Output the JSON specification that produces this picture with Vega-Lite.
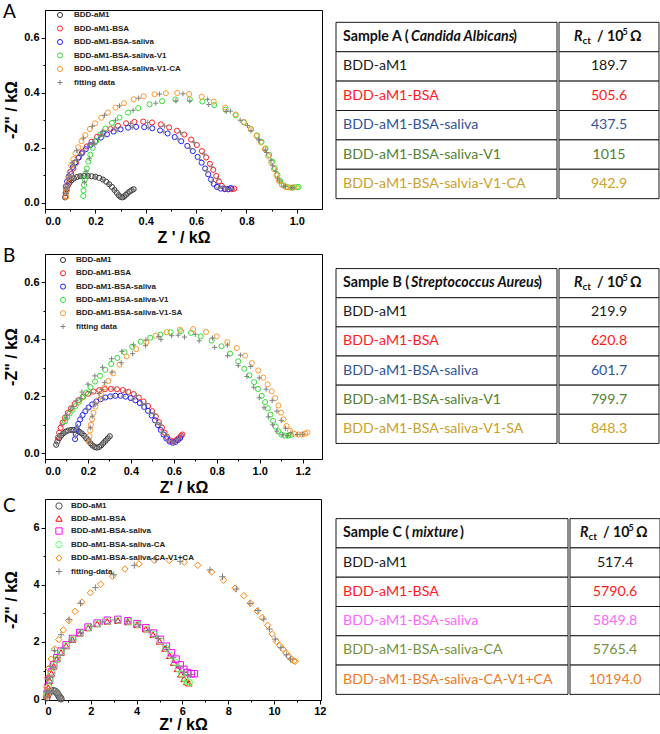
{
"$schema": "https://vega.github.io/schema/vega-lite/v6.json",
"background": "white",
"padding": {"left": 2, "top": 2, "right": 0, "bottom": 0},
"config": {
  "view": {"stroke": "black", "strokeWidth": 1},
  "axis": {"labelFont": "Liberation Sans", "labelFontWeight": "bold", "labelFontSize": 11, "labelColor": "black", "titleFont": "Liberation Sans", "titleFontWeight": "bold", "titleFontSize": 16, "titleColor": "black", "domainColor": "black", "tickColor": "black", "grid": false, "labelPadding": 2},
  "legend": {"labelFont": "Liberation Sans", "labelFontWeight": "bold", "labelFontSize": 8, "labelColor": "#222", "symbolStrokeWidth": 1, "padding": 0, "labelLimit": 400, "orient": "none"},
  "title": {"font": "Lato", "fontSize": 19, "fontWeight": "normal", "color": "black", "anchor": "start", "frame": "bounds", "offset": -12}
},
"resolve": {"scale": {"color": "independent", "shape": "independent", "x": "independent", "y": "independent"}},
"spacing": 0,
"vconcat": [
{
 "resolve": {"scale": {"color": "independent", "shape": "independent", "x": "independent", "y": "independent"}},
 "spacing": 12,
 "hconcat": [
 {
  "width": 277, "height": 199,
  "title": {"text": "A"},
  "data": {"values": [
{"s":"BDD-aM1","x":0.080,"y":0.020},{"s":"BDD-aM1","x":0.082,"y":0.035},{"s":"BDD-aM1","x":0.085,"y":0.050},{"s":"BDD-aM1","x":0.090,"y":0.062},{"s":"BDD-aM1","x":0.097,"y":0.073},{"s":"BDD-aM1","x":0.105,"y":0.082},{"s":"BDD-aM1","x":0.115,"y":0.089},{"s":"BDD-aM1","x":0.127,"y":0.094},{"s":"BDD-aM1","x":0.140,"y":0.097},{"s":"BDD-aM1","x":0.155,"y":0.098},{"s":"BDD-aM1","x":0.170,"y":0.098},{"s":"BDD-aM1","x":0.185,"y":0.097},{"s":"BDD-aM1","x":0.200,"y":0.095},{"s":"BDD-aM1","x":0.215,"y":0.091},{"s":"BDD-aM1","x":0.230,"y":0.085},{"s":"BDD-aM1","x":0.243,"y":0.077},{"s":"BDD-aM1","x":0.255,"y":0.068},{"s":"BDD-aM1","x":0.266,"y":0.058},{"s":"BDD-aM1","x":0.276,"y":0.047},{"s":"BDD-aM1","x":0.285,"y":0.037},{"s":"BDD-aM1","x":0.293,"y":0.028},{"s":"BDD-aM1","x":0.300,"y":0.022},{"s":"BDD-aM1","x":0.307,"y":0.020},{"s":"BDD-aM1","x":0.314,"y":0.023},{"s":"BDD-aM1","x":0.321,"y":0.029},{"s":"BDD-aM1","x":0.328,"y":0.035},{"s":"BDD-aM1","x":0.336,"y":0.041},{"s":"BDD-aM1","x":0.344,"y":0.046},{"s":"BDD-aM1","x":0.352,"y":0.050},
{"s":"BDD-aM1-BSA","x":0.082,"y":0.025},{"s":"BDD-aM1-BSA","x":0.086,"y":0.045},{"s":"BDD-aM1-BSA","x":0.091,"y":0.065},{"s":"BDD-aM1-BSA","x":0.097,"y":0.085},{"s":"BDD-aM1-BSA","x":0.104,"y":0.105},{"s":"BDD-aM1-BSA","x":0.113,"y":0.125},{"s":"BDD-aM1-BSA","x":0.123,"y":0.145},{"s":"BDD-aM1-BSA","x":0.135,"y":0.165},{"s":"BDD-aM1-BSA","x":0.149,"y":0.185},{"s":"BDD-aM1-BSA","x":0.166,"y":0.205},{"s":"BDD-aM1-BSA","x":0.185,"y":0.222},{"s":"BDD-aM1-BSA","x":0.207,"y":0.240},{"s":"BDD-aM1-BSA","x":0.232,"y":0.255},{"s":"BDD-aM1-BSA","x":0.260,"y":0.268},{"s":"BDD-aM1-BSA","x":0.290,"y":0.280},{"s":"BDD-aM1-BSA","x":0.322,"y":0.289},{"s":"BDD-aM1-BSA","x":0.355,"y":0.294},{"s":"BDD-aM1-BSA","x":0.390,"y":0.295},{"s":"BDD-aM1-BSA","x":0.425,"y":0.292},{"s":"BDD-aM1-BSA","x":0.460,"y":0.285},{"s":"BDD-aM1-BSA","x":0.493,"y":0.274},{"s":"BDD-aM1-BSA","x":0.524,"y":0.262},{"s":"BDD-aM1-BSA","x":0.553,"y":0.248},{"s":"BDD-aM1-BSA","x":0.580,"y":0.230},{"s":"BDD-aM1-BSA","x":0.603,"y":0.210},{"s":"BDD-aM1-BSA","x":0.623,"y":0.188},{"s":"BDD-aM1-BSA","x":0.640,"y":0.165},{"s":"BDD-aM1-BSA","x":0.655,"y":0.142},{"s":"BDD-aM1-BSA","x":0.668,"y":0.120},{"s":"BDD-aM1-BSA","x":0.680,"y":0.098},{"s":"BDD-aM1-BSA","x":0.691,"y":0.078},{"s":"BDD-aM1-BSA","x":0.702,"y":0.062},{"s":"BDD-aM1-BSA","x":0.714,"y":0.052},{"s":"BDD-aM1-BSA","x":0.728,"y":0.049},{"s":"BDD-aM1-BSA","x":0.742,"y":0.050},{"s":"BDD-aM1-BSA","x":0.752,"y":0.052},
{"s":"BDD-aM1-BSA-saliva","x":0.083,"y":0.060},{"s":"BDD-aM1-BSA-saliva","x":0.088,"y":0.078},{"s":"BDD-aM1-BSA-saliva","x":0.094,"y":0.096},{"s":"BDD-aM1-BSA-saliva","x":0.101,"y":0.113},{"s":"BDD-aM1-BSA-saliva","x":0.110,"y":0.130},{"s":"BDD-aM1-BSA-saliva","x":0.120,"y":0.147},{"s":"BDD-aM1-BSA-saliva","x":0.132,"y":0.164},{"s":"BDD-aM1-BSA-saliva","x":0.146,"y":0.180},{"s":"BDD-aM1-BSA-saliva","x":0.162,"y":0.195},{"s":"BDD-aM1-BSA-saliva","x":0.180,"y":0.210},{"s":"BDD-aM1-BSA-saliva","x":0.200,"y":0.224},{"s":"BDD-aM1-BSA-saliva","x":0.222,"y":0.237},{"s":"BDD-aM1-BSA-saliva","x":0.246,"y":0.249},{"s":"BDD-aM1-BSA-saliva","x":0.272,"y":0.259},{"s":"BDD-aM1-BSA-saliva","x":0.300,"y":0.267},{"s":"BDD-aM1-BSA-saliva","x":0.330,"y":0.273},{"s":"BDD-aM1-BSA-saliva","x":0.362,"y":0.276},{"s":"BDD-aM1-BSA-saliva","x":0.394,"y":0.275},{"s":"BDD-aM1-BSA-saliva","x":0.426,"y":0.271},{"s":"BDD-aM1-BSA-saliva","x":0.457,"y":0.263},{"s":"BDD-aM1-BSA-saliva","x":0.487,"y":0.252},{"s":"BDD-aM1-BSA-saliva","x":0.515,"y":0.239},{"s":"BDD-aM1-BSA-saliva","x":0.541,"y":0.224},{"s":"BDD-aM1-BSA-saliva","x":0.565,"y":0.207},{"s":"BDD-aM1-BSA-saliva","x":0.587,"y":0.188},{"s":"BDD-aM1-BSA-saliva","x":0.606,"y":0.167},{"s":"BDD-aM1-BSA-saliva","x":0.622,"y":0.146},{"s":"BDD-aM1-BSA-saliva","x":0.636,"y":0.125},{"s":"BDD-aM1-BSA-saliva","x":0.648,"y":0.104},{"s":"BDD-aM1-BSA-saliva","x":0.659,"y":0.085},{"s":"BDD-aM1-BSA-saliva","x":0.670,"y":0.069},{"s":"BDD-aM1-BSA-saliva","x":0.683,"y":0.058},{"s":"BDD-aM1-BSA-saliva","x":0.698,"y":0.052},{"s":"BDD-aM1-BSA-saliva","x":0.714,"y":0.050},{"s":"BDD-aM1-BSA-saliva","x":0.728,"y":0.051},{"s":"BDD-aM1-BSA-saliva","x":0.738,"y":0.054},
{"s":"BDD-aM1-BSA-saliva-V1","x":0.152,"y":0.025},{"s":"BDD-aM1-BSA-saliva-V1","x":0.153,"y":0.045},{"s":"BDD-aM1-BSA-saliva-V1","x":0.155,"y":0.065},{"s":"BDD-aM1-BSA-saliva-V1","x":0.158,"y":0.085},{"s":"BDD-aM1-BSA-saliva-V1","x":0.161,"y":0.105},{"s":"BDD-aM1-BSA-saliva-V1","x":0.166,"y":0.125},{"s":"BDD-aM1-BSA-saliva-V1","x":0.172,"y":0.150},{"s":"BDD-aM1-BSA-saliva-V1","x":0.180,"y":0.175},{"s":"BDD-aM1-BSA-saliva-V1","x":0.190,"y":0.200},{"s":"BDD-aM1-BSA-saliva-V1","x":0.203,"y":0.225},{"s":"BDD-aM1-BSA-saliva-V1","x":0.219,"y":0.248},{"s":"BDD-aM1-BSA-saliva-V1","x":0.240,"y":0.270},{"s":"BDD-aM1-BSA-saliva-V1","x":0.266,"y":0.290},{"s":"BDD-aM1-BSA-saliva-V1","x":0.296,"y":0.310},{"s":"BDD-aM1-BSA-saliva-V1","x":0.330,"y":0.328},{"s":"BDD-aM1-BSA-saliva-V1","x":0.370,"y":0.344},{"s":"BDD-aM1-BSA-saliva-V1","x":0.415,"y":0.358},{"s":"BDD-aM1-BSA-saliva-V1","x":0.465,"y":0.369},{"s":"BDD-aM1-BSA-saliva-V1","x":0.518,"y":0.375},{"s":"BDD-aM1-BSA-saliva-V1","x":0.575,"y":0.376},{"s":"BDD-aM1-BSA-saliva-V1","x":0.625,"y":0.368},{"s":"BDD-aM1-BSA-saliva-V1","x":0.672,"y":0.355},{"s":"BDD-aM1-BSA-saliva-V1","x":0.717,"y":0.338},{"s":"BDD-aM1-BSA-saliva-V1","x":0.757,"y":0.318},{"s":"BDD-aM1-BSA-saliva-V1","x":0.790,"y":0.292},{"s":"BDD-aM1-BSA-saliva-V1","x":0.818,"y":0.268},{"s":"BDD-aM1-BSA-saliva-V1","x":0.842,"y":0.245},{"s":"BDD-aM1-BSA-saliva-V1","x":0.860,"y":0.222},{"s":"BDD-aM1-BSA-saliva-V1","x":0.876,"y":0.198},{"s":"BDD-aM1-BSA-saliva-V1","x":0.890,"y":0.174},{"s":"BDD-aM1-BSA-saliva-V1","x":0.903,"y":0.150},{"s":"BDD-aM1-BSA-saliva-V1","x":0.913,"y":0.126},{"s":"BDD-aM1-BSA-saliva-V1","x":0.923,"y":0.102},{"s":"BDD-aM1-BSA-saliva-V1","x":0.934,"y":0.080},{"s":"BDD-aM1-BSA-saliva-V1","x":0.948,"y":0.064},{"s":"BDD-aM1-BSA-saliva-V1","x":0.965,"y":0.057},{"s":"BDD-aM1-BSA-saliva-V1","x":0.983,"y":0.056},{"s":"BDD-aM1-BSA-saliva-V1","x":1.000,"y":0.057},{"s":"BDD-aM1-BSA-saliva-V1","x":1.007,"y":0.058},
{"s":"BDD-aM1-BSA-saliva-V1-CA","x":0.084,"y":0.022},{"s":"BDD-aM1-BSA-saliva-V1-CA","x":0.086,"y":0.045},{"s":"BDD-aM1-BSA-saliva-V1-CA","x":0.089,"y":0.068},{"s":"BDD-aM1-BSA-saliva-V1-CA","x":0.093,"y":0.090},{"s":"BDD-aM1-BSA-saliva-V1-CA","x":0.098,"y":0.112},{"s":"BDD-aM1-BSA-saliva-V1-CA","x":0.104,"y":0.135},{"s":"BDD-aM1-BSA-saliva-V1-CA","x":0.112,"y":0.158},{"s":"BDD-aM1-BSA-saliva-V1-CA","x":0.121,"y":0.180},{"s":"BDD-aM1-BSA-saliva-V1-CA","x":0.132,"y":0.202},{"s":"BDD-aM1-BSA-saliva-V1-CA","x":0.145,"y":0.224},{"s":"BDD-aM1-BSA-saliva-V1-CA","x":0.160,"y":0.246},{"s":"BDD-aM1-BSA-saliva-V1-CA","x":0.178,"y":0.268},{"s":"BDD-aM1-BSA-saliva-V1-CA","x":0.199,"y":0.289},{"s":"BDD-aM1-BSA-saliva-V1-CA","x":0.223,"y":0.309},{"s":"BDD-aM1-BSA-saliva-V1-CA","x":0.250,"y":0.328},{"s":"BDD-aM1-BSA-saliva-V1-CA","x":0.280,"y":0.346},{"s":"BDD-aM1-BSA-saliva-V1-CA","x":0.314,"y":0.362},{"s":"BDD-aM1-BSA-saliva-V1-CA","x":0.352,"y":0.376},{"s":"BDD-aM1-BSA-saliva-V1-CA","x":0.392,"y":0.387},{"s":"BDD-aM1-BSA-saliva-V1-CA","x":0.435,"y":0.394},{"s":"BDD-aM1-BSA-saliva-V1-CA","x":0.480,"y":0.398},{"s":"BDD-aM1-BSA-saliva-V1-CA","x":0.525,"y":0.399},{"s":"BDD-aM1-BSA-saliva-V1-CA","x":0.572,"y":0.395},{"s":"BDD-aM1-BSA-saliva-V1-CA","x":0.622,"y":0.385},{"s":"BDD-aM1-BSA-saliva-V1-CA","x":0.670,"y":0.368},{"s":"BDD-aM1-BSA-saliva-V1-CA","x":0.716,"y":0.346},{"s":"BDD-aM1-BSA-saliva-V1-CA","x":0.757,"y":0.321},{"s":"BDD-aM1-BSA-saliva-V1-CA","x":0.790,"y":0.294},{"s":"BDD-aM1-BSA-saliva-V1-CA","x":0.817,"y":0.268},{"s":"BDD-aM1-BSA-saliva-V1-CA","x":0.840,"y":0.243},{"s":"BDD-aM1-BSA-saliva-V1-CA","x":0.858,"y":0.219},{"s":"BDD-aM1-BSA-saliva-V1-CA","x":0.873,"y":0.195},{"s":"BDD-aM1-BSA-saliva-V1-CA","x":0.886,"y":0.171},{"s":"BDD-aM1-BSA-saliva-V1-CA","x":0.898,"y":0.147},{"s":"BDD-aM1-BSA-saliva-V1-CA","x":0.909,"y":0.123},{"s":"BDD-aM1-BSA-saliva-V1-CA","x":0.919,"y":0.100},{"s":"BDD-aM1-BSA-saliva-V1-CA","x":0.929,"y":0.080},{"s":"BDD-aM1-BSA-saliva-V1-CA","x":0.941,"y":0.065},{"s":"BDD-aM1-BSA-saliva-V1-CA","x":0.957,"y":0.057},{"s":"BDD-aM1-BSA-saliva-V1-CA","x":0.975,"y":0.055},{"s":"BDD-aM1-BSA-saliva-V1-CA","x":0.990,"y":0.057},
{"s":"fitting data","x":0.085,"y":0.035},{"s":"fitting data","x":0.095,"y":0.068},{"s":"fitting data","x":0.115,"y":0.088},{"s":"fitting data","x":0.140,"y":0.097},{"s":"fitting data","x":0.170,"y":0.098},{"s":"fitting data","x":0.200,"y":0.094},{"s":"fitting data","x":0.230,"y":0.084},{"s":"fitting data","x":0.255,"y":0.067},{"s":"fitting data","x":0.276,"y":0.047},{"s":"fitting data","x":0.293,"y":0.029},{"s":"fitting data","x":0.307,"y":0.021},{"s":"fitting data","x":0.321,"y":0.029},{"s":"fitting data","x":0.336,"y":0.040},{"s":"fitting data","x":0.350,"y":0.049},
{"s":"fitting data","x":0.088,"y":0.050},{"s":"fitting data","x":0.100,"y":0.095},{"s":"fitting data","x":0.118,"y":0.135},{"s":"fitting data","x":0.142,"y":0.175},{"s":"fitting data","x":0.176,"y":0.213},{"s":"fitting data","x":0.220,"y":0.246},{"s":"fitting data","x":0.275,"y":0.272},{"s":"fitting data","x":0.340,"y":0.288},{"s":"fitting data","x":0.408,"y":0.291},{"s":"fitting data","x":0.475,"y":0.279},{"s":"fitting data","x":0.538,"y":0.255},{"s":"fitting data","x":0.592,"y":0.220},{"s":"fitting data","x":0.632,"y":0.177},{"s":"fitting data","x":0.662,"y":0.131},{"s":"fitting data","x":0.686,"y":0.088},{"s":"fitting data","x":0.707,"y":0.057},{"s":"fitting data","x":0.735,"y":0.050},
{"s":"fitting data","x":0.090,"y":0.085},{"s":"fitting data","x":0.105,"y":0.122},{"s":"fitting data","x":0.126,"y":0.156},{"s":"fitting data","x":0.154,"y":0.188},{"s":"fitting data","x":0.190,"y":0.217},{"s":"fitting data","x":0.234,"y":0.243},{"s":"fitting data","x":0.286,"y":0.263},{"s":"fitting data","x":0.346,"y":0.274},{"s":"fitting data","x":0.410,"y":0.273},{"s":"fitting data","x":0.472,"y":0.258},{"s":"fitting data","x":0.528,"y":0.232},{"s":"fitting data","x":0.576,"y":0.198},{"s":"fitting data","x":0.614,"y":0.157},{"s":"fitting data","x":0.642,"y":0.115},{"s":"fitting data","x":0.664,"y":0.078},{"s":"fitting data","x":0.690,"y":0.055},{"s":"fitting data","x":0.722,"y":0.050},
{"s":"fitting data","x":0.156,"y":0.075},{"s":"fitting data","x":0.163,"y":0.115},{"s":"fitting data","x":0.176,"y":0.162},{"s":"fitting data","x":0.196,"y":0.212},{"s":"fitting data","x":0.229,"y":0.259},{"s":"fitting data","x":0.280,"y":0.300},{"s":"fitting data","x":0.350,"y":0.336},{"s":"fitting data","x":0.440,"y":0.362},{"s":"fitting data","x":0.520,"y":0.370},{"s":"fitting data","x":0.575,"y":0.370},{"s":"fitting data","x":0.650,"y":0.357},{"s":"fitting data","x":0.720,"y":0.332},{"s":"fitting data","x":0.775,"y":0.300},{"s":"fitting data","x":0.818,"y":0.262},{"s":"fitting data","x":0.850,"y":0.228},{"s":"fitting data","x":0.875,"y":0.192},{"s":"fitting data","x":0.898,"y":0.155},{"s":"fitting data","x":0.916,"y":0.115},{"s":"fitting data","x":0.932,"y":0.080},{"s":"fitting data","x":0.955,"y":0.060},{"s":"fitting data","x":0.985,"y":0.055},
{"s":"fitting data","x":0.087,"y":0.055},{"s":"fitting data","x":0.095,"y":0.100},{"s":"fitting data","x":0.108,"y":0.146},{"s":"fitting data","x":0.126,"y":0.190},{"s":"fitting data","x":0.152,"y":0.235},{"s":"fitting data","x":0.188,"y":0.278},{"s":"fitting data","x":0.236,"y":0.318},{"s":"fitting data","x":0.296,"y":0.352},{"s":"fitting data","x":0.372,"y":0.380},{"s":"fitting data","x":0.455,"y":0.395},{"s":"fitting data","x":0.548,"y":0.396},{"s":"fitting data","x":0.646,"y":0.376},{"s":"fitting data","x":0.736,"y":0.333},{"s":"fitting data","x":0.804,"y":0.281},{"s":"fitting data","x":0.849,"y":0.231},{"s":"fitting data","x":0.880,"y":0.183},{"s":"fitting data","x":0.904,"y":0.135},{"s":"fitting data","x":0.924,"y":0.090},{"s":"fitting data","x":0.948,"y":0.061},{"s":"fitting data","x":0.978,"y":0.055}
  ]},
  "mark": {"type": "point", "filled": false, "size": 26, "strokeWidth": 1, "opacity": 1},
  "encoding": {
   "x": {"field": "x", "type": "quantitative", "scale": {"domain": [0, 1.1], "nice": false, "zero": false},
         "axis": {"title": "Z ' / kΩ", "values": [0,0.1,0.2,0.3,0.4,0.5,0.6,0.7,0.8,0.9,1.0], "labelExpr": "round(datum.value*10) % 2 == 0 ? format(datum.value, '.1f') : ''", "tickSize": {"condition": {"test": "round(datum.value*10) % 2 == 0", "value": 4}, "value": 2}, "titlePadding": 3}},
   "y": {"field": "y", "type": "quantitative", "scale": {"domain": [-0.022, 0.7], "nice": false, "zero": false},
         "axis": {"title": "-Z\" / kΩ", "values": [0,0.1,0.2,0.3,0.4,0.5,0.6], "labelExpr": "round(datum.value*10) % 2 == 0 ? format(datum.value, '.1f') : ''", "tickSize": {"condition": {"test": "round(datum.value*10) % 2 == 0", "value": 4}, "value": 2}, "minExtent": 24, "titlePadding": 2}},
   "color": {"field": "s", "type": "nominal", "scale": {"domain": ["BDD-aM1","BDD-aM1-BSA","BDD-aM1-BSA-saliva","BDD-aM1-BSA-saliva-V1","BDD-aM1-BSA-saliva-V1-CA","fitting data"], "range": ["#333333","#ff2020","#2020ff","#30e030","#ff9a30","#808080"]},
             "legend": {"title": null, "legendX": 11, "legendY": 1, "symbolSize": 26, "rowPadding": 3.5, "labelOffset": 10}},
   "shape": {"field": "s", "type": "nominal", "scale": {"domain": ["BDD-aM1","BDD-aM1-BSA","BDD-aM1-BSA-saliva","BDD-aM1-BSA-saliva-V1","BDD-aM1-BSA-saliva-V1-CA","fitting data"], "range": ["circle","circle","circle","circle","circle","M-1,0L1,0M0,-1L0,1"]},
             "legend": {"title": null, "legendX": 11, "legendY": 1, "symbolSize": 26, "rowPadding": 3.5, "labelOffset": 10}}
  }
 },
 {
  "spacing": 0,
  "resolve": {"scale": {"color": "independent", "x": "independent", "y": "independent"}},
  "hconcat": [
  {
   "width": 221, "height": 201,
   "view": {"stroke": null},
   "data": {"values": [
     {"r": 0, "t": "Sample A (", "it": "Candida Albicans", "c": "k"},
     {"r": 1, "t": "BDD-aM1", "c": "k"},
     {"r": 2, "t": "BDD-aM1-BSA", "c": "r"},
     {"r": 3, "t": "BDD-aM1-BSA-saliva", "c": "b"},
     {"r": 4, "t": "BDD-aM1-BSA-saliva-V1", "c": "g"},
     {"r": 5, "t": "BDD-aM1-BSA-salvia-V1-CA", "c": "o"}
   ]},
   "encoding": {"y": {"field": "r", "type": "ordinal", "scale": {"paddingInner": 0, "paddingOuter": 0.42}, "axis": null}},
   "layer": [
    {"mark": {"type": "rect", "fill": "white", "stroke": "#1a1a1a", "strokeWidth": 1}},
    {"transform": [{"filter": "datum.r > 0"}],
     "mark": {"type": "text", "align": "left", "baseline": "middle", "font": "Lato", "fontSize": 14.2, "dx": 7},
     "encoding": {"x": {"datum": 0, "type": "quantitative", "scale": {"domain": [0, 1]}, "axis": null}, "text": {"field": "t"},
       "color": {"field": "c", "type": "nominal", "scale": {"domain": ["k","r","b","g","o"], "range": ["#1a1a1a","#ff1a1a","#2f5597","#548235","#c9a12b"]}, "legend": null}}},
    {"transform": [{"filter": "datum.r == 0"}],
     "mark": {"type": "text", "align": "left", "baseline": "middle", "font": "Lato", "fontSize": 14.2, "fontWeight": "bold", "dx": 7, "color": "#111"},
     "encoding": {"x": {"datum": 0, "type": "quantitative", "scale": {"domain": [0, 1]}, "axis": null}, "text": {"field": "t"}}},
    {"transform": [{"filter": "datum.r == 0"}],
     "mark": {"type": "text", "align": "left", "baseline": "middle", "font": "Lato", "fontSize": 14.2, "fontWeight": "bold", "fontStyle": "italic", "dx": 75, "color": "#111"},
     "encoding": {"x": {"datum": 0, "type": "quantitative", "scale": {"domain": [0, 1]}, "axis": null}, "text": {"field": "it"}}},
    {"transform": [{"filter": "datum.r == 0"}],
     "mark": {"type": "text", "align": "left", "baseline": "middle", "font": "Lato", "fontSize": 14.2, "fontWeight": "bold", "dx": 177, "color": "#111"},
     "encoding": {"x": {"datum": 0, "type": "quantitative", "scale": {"domain": [0, 1]}, "axis": null}, "text": {"value": ")"}}}
   ]
  },
  {
   "width": 100, "height": 201,
   "view": {"stroke": null},
   "data": {"values": [
     {"r": 0, "v": "", "c": "k"},
     {"r": 1, "v": "189.7", "c": "k"},
     {"r": 2, "v": "505.6", "c": "r"},
     {"r": 3, "v": "437.5", "c": "b"},
     {"r": 4, "v": "1015", "c": "g"},
     {"r": 5, "v": "942.9", "c": "o"}
   ]},
   "encoding": {"y": {"field": "r", "type": "ordinal", "scale": {"paddingInner": 0, "paddingOuter": 0.42}, "axis": null}},
   "layer": [
    {"mark": {"type": "rect", "fill": "white", "stroke": "#1a1a1a", "strokeWidth": 1}},
    {"transform": [{"filter": "datum.r > 0"}],
     "mark": {"type": "text", "align": "center", "baseline": "middle", "font": "Lato", "fontSize": 14.2},
     "encoding": {"x": {"datum": 0.5, "type": "quantitative", "scale": {"domain": [0, 1]}, "axis": null}, "text": {"field": "v"},
       "color": {"field": "c", "type": "nominal", "scale": {"domain": ["k","r","b","g","o"], "range": ["#1a1a1a","#ff1a1a","#2f5597","#548235","#c9a12b"]}, "legend": null}}},
    {"transform": [{"filter": "datum.r == 0"}],
     "mark": {"type": "text", "align": "left", "baseline": "middle", "font": "Lato", "fontSize": 14.2, "fontWeight": "bold", "fontStyle": "italic", "dx": -35, "color": "#111"},
     "encoding": {"x": {"datum": 0.5, "type": "quantitative", "scale": {"domain": [0, 1]}, "axis": null}, "text": {"value": "R"}}},
    {"transform": [{"filter": "datum.r == 0"}],
     "mark": {"type": "text", "align": "left", "baseline": "middle", "font": "Lato", "fontSize": 10, "fontWeight": "bold", "dx": -26.5, "dy": 4, "color": "#111"},
     "encoding": {"x": {"datum": 0.5, "type": "quantitative", "scale": {"domain": [0, 1]}, "axis": null}, "text": {"value": "ct"}}},
    {"transform": [{"filter": "datum.r == 0"}],
     "mark": {"type": "text", "align": "left", "baseline": "middle", "font": "Lato", "fontSize": 14.2, "fontWeight": "bold", "dx": -12, "color": "#111"},
     "encoding": {"x": {"datum": 0.5, "type": "quantitative", "scale": {"domain": [0, 1]}, "axis": null}, "text": {"value": "/ 10"}}},
    {"transform": [{"filter": "datum.r == 0"}],
     "mark": {"type": "text", "align": "left", "baseline": "middle", "font": "Lato", "fontSize": 9, "fontWeight": "bold", "dx": 13.5, "dy": -5, "color": "#111"},
     "encoding": {"x": {"datum": 0.5, "type": "quantitative", "scale": {"domain": [0, 1]}, "axis": null}, "text": {"value": "5"}}},
    {"transform": [{"filter": "datum.r == 0"}],
     "mark": {"type": "text", "align": "left", "baseline": "middle", "font": "Lato", "fontSize": 14.2, "fontWeight": "bold", "dx": 21, "color": "#111"},
     "encoding": {"x": {"datum": 0.5, "type": "quantitative", "scale": {"domain": [0, 1]}, "axis": null}, "text": {"value": "Ω"}}}
   ]
  }
  ]
 }
 ]
},
{
 "resolve": {"scale": {"color": "independent", "shape": "independent", "x": "independent", "y": "independent"}},
 "spacing": 12,
 "hconcat": [
 {
  "width": 277, "height": 205,
  "title": {"text": "B"},
  "data": {"values": [
{"s":"BDD-aM1","x":0.052,"y":0.030},{"s":"BDD-aM1","x":0.058,"y":0.042},{"s":"BDD-aM1","x":0.066,"y":0.053},{"s":"BDD-aM1","x":0.075,"y":0.062},{"s":"BDD-aM1","x":0.085,"y":0.070},{"s":"BDD-aM1","x":0.096,"y":0.076},{"s":"BDD-aM1","x":0.108,"y":0.080},{"s":"BDD-aM1","x":0.121,"y":0.082},{"s":"BDD-aM1","x":0.134,"y":0.082},{"s":"BDD-aM1","x":0.147,"y":0.080},{"s":"BDD-aM1","x":0.159,"y":0.076},{"s":"BDD-aM1","x":0.171,"y":0.070},{"s":"BDD-aM1","x":0.182,"y":0.062},{"s":"BDD-aM1","x":0.192,"y":0.053},{"s":"BDD-aM1","x":0.202,"y":0.044},{"s":"BDD-aM1","x":0.212,"y":0.035},{"s":"BDD-aM1","x":0.222,"y":0.027},{"s":"BDD-aM1","x":0.232,"y":0.022},{"s":"BDD-aM1","x":0.242,"y":0.020},{"s":"BDD-aM1","x":0.252,"y":0.022},{"s":"BDD-aM1","x":0.262,"y":0.028},{"s":"BDD-aM1","x":0.272,"y":0.036},{"s":"BDD-aM1","x":0.282,"y":0.044},{"s":"BDD-aM1","x":0.292,"y":0.052},{"s":"BDD-aM1","x":0.302,"y":0.060},
{"s":"BDD-aM1-BSA","x":0.060,"y":0.055},{"s":"BDD-aM1-BSA","x":0.066,"y":0.072},{"s":"BDD-aM1-BSA","x":0.073,"y":0.090},{"s":"BDD-aM1-BSA","x":0.082,"y":0.108},{"s":"BDD-aM1-BSA","x":0.093,"y":0.125},{"s":"BDD-aM1-BSA","x":0.106,"y":0.142},{"s":"BDD-aM1-BSA","x":0.121,"y":0.158},{"s":"BDD-aM1-BSA","x":0.138,"y":0.173},{"s":"BDD-aM1-BSA","x":0.157,"y":0.187},{"s":"BDD-aM1-BSA","x":0.178,"y":0.199},{"s":"BDD-aM1-BSA","x":0.201,"y":0.209},{"s":"BDD-aM1-BSA","x":0.226,"y":0.217},{"s":"BDD-aM1-BSA","x":0.252,"y":0.222},{"s":"BDD-aM1-BSA","x":0.279,"y":0.225},{"s":"BDD-aM1-BSA","x":0.307,"y":0.226},{"s":"BDD-aM1-BSA","x":0.335,"y":0.225},{"s":"BDD-aM1-BSA","x":0.362,"y":0.222},{"s":"BDD-aM1-BSA","x":0.388,"y":0.216},{"s":"BDD-aM1-BSA","x":0.413,"y":0.208},{"s":"BDD-aM1-BSA","x":0.437,"y":0.196},{"s":"BDD-aM1-BSA","x":0.459,"y":0.182},{"s":"BDD-aM1-BSA","x":0.480,"y":0.166},{"s":"BDD-aM1-BSA","x":0.499,"y":0.148},{"s":"BDD-aM1-BSA","x":0.516,"y":0.129},{"s":"BDD-aM1-BSA","x":0.531,"y":0.109},{"s":"BDD-aM1-BSA","x":0.545,"y":0.090},{"s":"BDD-aM1-BSA","x":0.557,"y":0.072},{"s":"BDD-aM1-BSA","x":0.569,"y":0.057},{"s":"BDD-aM1-BSA","x":0.582,"y":0.046},{"s":"BDD-aM1-BSA","x":0.596,"y":0.042},{"s":"BDD-aM1-BSA","x":0.610,"y":0.046},{"s":"BDD-aM1-BSA","x":0.622,"y":0.053},{"s":"BDD-aM1-BSA","x":0.634,"y":0.062},{"s":"BDD-aM1-BSA","x":0.640,"y":0.066},
{"s":"BDD-aM1-BSA-saliva","x":0.140,"y":0.050},{"s":"BDD-aM1-BSA-saliva","x":0.143,"y":0.068},{"s":"BDD-aM1-BSA-saliva","x":0.148,"y":0.086},{"s":"BDD-aM1-BSA-saliva","x":0.155,"y":0.103},{"s":"BDD-aM1-BSA-saliva","x":0.164,"y":0.119},{"s":"BDD-aM1-BSA-saliva","x":0.175,"y":0.134},{"s":"BDD-aM1-BSA-saliva","x":0.188,"y":0.148},{"s":"BDD-aM1-BSA-saliva","x":0.203,"y":0.161},{"s":"BDD-aM1-BSA-saliva","x":0.220,"y":0.172},{"s":"BDD-aM1-BSA-saliva","x":0.239,"y":0.182},{"s":"BDD-aM1-BSA-saliva","x":0.259,"y":0.190},{"s":"BDD-aM1-BSA-saliva","x":0.281,"y":0.196},{"s":"BDD-aM1-BSA-saliva","x":0.304,"y":0.200},{"s":"BDD-aM1-BSA-saliva","x":0.328,"y":0.202},{"s":"BDD-aM1-BSA-saliva","x":0.352,"y":0.202},{"s":"BDD-aM1-BSA-saliva","x":0.376,"y":0.199},{"s":"BDD-aM1-BSA-saliva","x":0.399,"y":0.194},{"s":"BDD-aM1-BSA-saliva","x":0.421,"y":0.186},{"s":"BDD-aM1-BSA-saliva","x":0.442,"y":0.176},{"s":"BDD-aM1-BSA-saliva","x":0.462,"y":0.163},{"s":"BDD-aM1-BSA-saliva","x":0.480,"y":0.149},{"s":"BDD-aM1-BSA-saliva","x":0.497,"y":0.133},{"s":"BDD-aM1-BSA-saliva","x":0.512,"y":0.116},{"s":"BDD-aM1-BSA-saliva","x":0.526,"y":0.099},{"s":"BDD-aM1-BSA-saliva","x":0.539,"y":0.082},{"s":"BDD-aM1-BSA-saliva","x":0.552,"y":0.066},{"s":"BDD-aM1-BSA-saliva","x":0.565,"y":0.052},{"s":"BDD-aM1-BSA-saliva","x":0.580,"y":0.041},{"s":"BDD-aM1-BSA-saliva","x":0.595,"y":0.037},{"s":"BDD-aM1-BSA-saliva","x":0.608,"y":0.040},{"s":"BDD-aM1-BSA-saliva","x":0.620,"y":0.047},{"s":"BDD-aM1-BSA-saliva","x":0.630,"y":0.054},
{"s":"BDD-aM1-BSA-saliva-V1","x":0.093,"y":0.113},{"s":"BDD-aM1-BSA-saliva-V1","x":0.103,"y":0.126},{"s":"BDD-aM1-BSA-saliva-V1","x":0.115,"y":0.140},{"s":"BDD-aM1-BSA-saliva-V1","x":0.128,"y":0.153},{"s":"BDD-aM1-BSA-saliva-V1","x":0.142,"y":0.166},{"s":"BDD-aM1-BSA-saliva-V1","x":0.157,"y":0.180},{"s":"BDD-aM1-BSA-saliva-V1","x":0.174,"y":0.196},{"s":"BDD-aM1-BSA-saliva-V1","x":0.192,"y":0.213},{"s":"BDD-aM1-BSA-saliva-V1","x":0.212,"y":0.232},{"s":"BDD-aM1-BSA-saliva-V1","x":0.233,"y":0.252},{"s":"BDD-aM1-BSA-saliva-V1","x":0.256,"y":0.272},{"s":"BDD-aM1-BSA-saliva-V1","x":0.281,"y":0.293},{"s":"BDD-aM1-BSA-saliva-V1","x":0.308,"y":0.314},{"s":"BDD-aM1-BSA-saliva-V1","x":0.337,"y":0.335},{"s":"BDD-aM1-BSA-saliva-V1","x":0.370,"y":0.355},{"s":"BDD-aM1-BSA-saliva-V1","x":0.406,"y":0.374},{"s":"BDD-aM1-BSA-saliva-V1","x":0.446,"y":0.392},{"s":"BDD-aM1-BSA-saliva-V1","x":0.490,"y":0.406},{"s":"BDD-aM1-BSA-saliva-V1","x":0.537,"y":0.417},{"s":"BDD-aM1-BSA-saliva-V1","x":0.585,"y":0.425},{"s":"BDD-aM1-BSA-saliva-V1","x":0.633,"y":0.429},{"s":"BDD-aM1-BSA-saliva-V1","x":0.680,"y":0.423},{"s":"BDD-aM1-BSA-saliva-V1","x":0.725,"y":0.411},{"s":"BDD-aM1-BSA-saliva-V1","x":0.776,"y":0.396},{"s":"BDD-aM1-BSA-saliva-V1","x":0.822,"y":0.376},{"s":"BDD-aM1-BSA-saliva-V1","x":0.862,"y":0.350},{"s":"BDD-aM1-BSA-saliva-V1","x":0.900,"y":0.323},{"s":"BDD-aM1-BSA-saliva-V1","x":0.928,"y":0.297},{"s":"BDD-aM1-BSA-saliva-V1","x":0.952,"y":0.274},{"s":"BDD-aM1-BSA-saliva-V1","x":0.974,"y":0.250},{"s":"BDD-aM1-BSA-saliva-V1","x":0.992,"y":0.226},{"s":"BDD-aM1-BSA-saliva-V1","x":1.009,"y":0.202},{"s":"BDD-aM1-BSA-saliva-V1","x":1.025,"y":0.180},{"s":"BDD-aM1-BSA-saliva-V1","x":1.038,"y":0.158},{"s":"BDD-aM1-BSA-saliva-V1","x":1.050,"y":0.136},{"s":"BDD-aM1-BSA-saliva-V1","x":1.062,"y":0.114},{"s":"BDD-aM1-BSA-saliva-V1","x":1.074,"y":0.094},{"s":"BDD-aM1-BSA-saliva-V1","x":1.087,"y":0.077},{"s":"BDD-aM1-BSA-saliva-V1","x":1.101,"y":0.066},{"s":"BDD-aM1-BSA-saliva-V1","x":1.117,"y":0.062},{"s":"BDD-aM1-BSA-saliva-V1","x":1.133,"y":0.062},{"s":"BDD-aM1-BSA-saliva-V1","x":1.145,"y":0.064},
{"s":"BDD-aM1-BSA-saliva-V1-SA","x":0.205,"y":0.040},{"s":"BDD-aM1-BSA-saliva-V1-SA","x":0.207,"y":0.060},{"s":"BDD-aM1-BSA-saliva-V1-SA","x":0.210,"y":0.080},{"s":"BDD-aM1-BSA-saliva-V1-SA","x":0.214,"y":0.100},{"s":"BDD-aM1-BSA-saliva-V1-SA","x":0.219,"y":0.120},{"s":"BDD-aM1-BSA-saliva-V1-SA","x":0.226,"y":0.142},{"s":"BDD-aM1-BSA-saliva-V1-SA","x":0.235,"y":0.164},{"s":"BDD-aM1-BSA-saliva-V1-SA","x":0.246,"y":0.186},{"s":"BDD-aM1-BSA-saliva-V1-SA","x":0.260,"y":0.208},{"s":"BDD-aM1-BSA-saliva-V1-SA","x":0.276,"y":0.231},{"s":"BDD-aM1-BSA-saliva-V1-SA","x":0.295,"y":0.254},{"s":"BDD-aM1-BSA-saliva-V1-SA","x":0.317,"y":0.281},{"s":"BDD-aM1-BSA-saliva-V1-SA","x":0.347,"y":0.311},{"s":"BDD-aM1-BSA-saliva-V1-SA","x":0.380,"y":0.340},{"s":"BDD-aM1-BSA-saliva-V1-SA","x":0.425,"y":0.366},{"s":"BDD-aM1-BSA-saliva-V1-SA","x":0.472,"y":0.390},{"s":"BDD-aM1-BSA-saliva-V1-SA","x":0.515,"y":0.413},{"s":"BDD-aM1-BSA-saliva-V1-SA","x":0.567,"y":0.425},{"s":"BDD-aM1-BSA-saliva-V1-SA","x":0.628,"y":0.434},{"s":"BDD-aM1-BSA-saliva-V1-SA","x":0.690,"y":0.436},{"s":"BDD-aM1-BSA-saliva-V1-SA","x":0.750,"y":0.426},{"s":"BDD-aM1-BSA-saliva-V1-SA","x":0.800,"y":0.411},{"s":"BDD-aM1-BSA-saliva-V1-SA","x":0.849,"y":0.391},{"s":"BDD-aM1-BSA-saliva-V1-SA","x":0.893,"y":0.370},{"s":"BDD-aM1-BSA-saliva-V1-SA","x":0.932,"y":0.343},{"s":"BDD-aM1-BSA-saliva-V1-SA","x":0.963,"y":0.317},{"s":"BDD-aM1-BSA-saliva-V1-SA","x":0.993,"y":0.291},{"s":"BDD-aM1-BSA-saliva-V1-SA","x":1.017,"y":0.266},{"s":"BDD-aM1-BSA-saliva-V1-SA","x":1.037,"y":0.242},{"s":"BDD-aM1-BSA-saliva-V1-SA","x":1.056,"y":0.218},{"s":"BDD-aM1-BSA-saliva-V1-SA","x":1.072,"y":0.194},{"s":"BDD-aM1-BSA-saliva-V1-SA","x":1.087,"y":0.168},{"s":"BDD-aM1-BSA-saliva-V1-SA","x":1.099,"y":0.143},{"s":"BDD-aM1-BSA-saliva-V1-SA","x":1.111,"y":0.119},{"s":"BDD-aM1-BSA-saliva-V1-SA","x":1.125,"y":0.096},{"s":"BDD-aM1-BSA-saliva-V1-SA","x":1.141,"y":0.079},{"s":"BDD-aM1-BSA-saliva-V1-SA","x":1.160,"y":0.069},{"s":"BDD-aM1-BSA-saliva-V1-SA","x":1.180,"y":0.066},{"s":"BDD-aM1-BSA-saliva-V1-SA","x":1.198,"y":0.066},{"s":"BDD-aM1-BSA-saliva-V1-SA","x":1.212,"y":0.069},{"s":"BDD-aM1-BSA-saliva-V1-SA","x":1.222,"y":0.073},
{"s":"fitting data","x":0.054,"y":0.035},{"s":"fitting data","x":0.070,"y":0.058},{"s":"fitting data","x":0.090,"y":0.073},{"s":"fitting data","x":0.115,"y":0.081},{"s":"fitting data","x":0.140,"y":0.081},{"s":"fitting data","x":0.165,"y":0.073},{"s":"fitting data","x":0.187,"y":0.058},{"s":"fitting data","x":0.207,"y":0.040},{"s":"fitting data","x":0.227,"y":0.025},{"s":"fitting data","x":0.247,"y":0.020},{"s":"fitting data","x":0.267,"y":0.032},{"s":"fitting data","x":0.287,"y":0.048},{"s":"fitting data","x":0.300,"y":0.058},
{"s":"fitting data","x":0.063,"y":0.063},{"s":"fitting data","x":0.078,"y":0.100},{"s":"fitting data","x":0.100,"y":0.134},{"s":"fitting data","x":0.130,"y":0.165},{"s":"fitting data","x":0.168,"y":0.193},{"s":"fitting data","x":0.214,"y":0.213},{"s":"fitting data","x":0.265,"y":0.224},{"s":"fitting data","x":0.320,"y":0.226},{"s":"fitting data","x":0.375,"y":0.219},{"s":"fitting data","x":0.425,"y":0.202},{"s":"fitting data","x":0.470,"y":0.174},{"s":"fitting data","x":0.508,"y":0.139},{"s":"fitting data","x":0.538,"y":0.100},{"s":"fitting data","x":0.563,"y":0.064},{"s":"fitting data","x":0.589,"y":0.043},{"s":"fitting data","x":0.616,"y":0.049},{"s":"fitting data","x":0.637,"y":0.064},
{"s":"fitting data","x":0.141,"y":0.059},{"s":"fitting data","x":0.151,"y":0.095},{"s":"fitting data","x":0.169,"y":0.127},{"s":"fitting data","x":0.196,"y":0.155},{"s":"fitting data","x":0.229,"y":0.177},{"s":"fitting data","x":0.270,"y":0.193},{"s":"fitting data","x":0.316,"y":0.201},{"s":"fitting data","x":0.364,"y":0.201},{"s":"fitting data","x":0.410,"y":0.190},{"s":"fitting data","x":0.452,"y":0.170},{"s":"fitting data","x":0.489,"y":0.141},{"s":"fitting data","x":0.519,"y":0.108},{"s":"fitting data","x":0.546,"y":0.074},{"s":"fitting data","x":0.572,"y":0.046},{"s":"fitting data","x":0.601,"y":0.038},{"s":"fitting data","x":0.625,"y":0.050},
{"s":"fitting data","x":0.098,"y":0.125},{"s":"fitting data","x":0.120,"y":0.155},{"s":"fitting data","x":0.145,"y":0.185},{"s":"fitting data","x":0.172,"y":0.215},{"s":"fitting data","x":0.200,"y":0.243},{"s":"fitting data","x":0.232,"y":0.272},{"s":"fitting data","x":0.268,"y":0.302},{"s":"fitting data","x":0.310,"y":0.332},{"s":"fitting data","x":0.358,"y":0.358},{"s":"fitting data","x":0.412,"y":0.381},{"s":"fitting data","x":0.470,"y":0.398},{"s":"fitting data","x":0.530,"y":0.410},{"s":"fitting data","x":0.590,"y":0.413},{"s":"fitting data","x":0.650,"y":0.408},{"s":"fitting data","x":0.718,"y":0.395},{"s":"fitting data","x":0.790,"y":0.372},{"s":"fitting data","x":0.850,"y":0.343},{"s":"fitting data","x":0.900,"y":0.308},{"s":"fitting data","x":0.940,"y":0.270},{"s":"fitting data","x":0.972,"y":0.232},{"s":"fitting data","x":0.998,"y":0.195},{"s":"fitting data","x":1.020,"y":0.160},{"s":"fitting data","x":1.040,"y":0.128},{"s":"fitting data","x":1.060,"y":0.100},{"s":"fitting data","x":1.080,"y":0.078},{"s":"fitting data","x":1.105,"y":0.065},{"s":"fitting data","x":1.130,"y":0.062},
{"s":"fitting data","x":0.206,"y":0.050},{"s":"fitting data","x":0.211,"y":0.090},{"s":"fitting data","x":0.220,"y":0.130},{"s":"fitting data","x":0.233,"y":0.170},{"s":"fitting data","x":0.252,"y":0.210},{"s":"fitting data","x":0.278,"y":0.248},{"s":"fitting data","x":0.312,"y":0.285},{"s":"fitting data","x":0.355,"y":0.318},{"s":"fitting data","x":0.408,"y":0.350},{"s":"fitting data","x":0.468,"y":0.378},{"s":"fitting data","x":0.540,"y":0.400},{"s":"fitting data","x":0.620,"y":0.415},{"s":"fitting data","x":0.700,"y":0.418},{"s":"fitting data","x":0.780,"y":0.405},{"s":"fitting data","x":0.850,"y":0.380},{"s":"fitting data","x":0.910,"y":0.345},{"s":"fitting data","x":0.958,"y":0.305},{"s":"fitting data","x":0.998,"y":0.265},{"s":"fitting data","x":1.030,"y":0.225},{"s":"fitting data","x":1.058,"y":0.185},{"s":"fitting data","x":1.080,"y":0.148},{"s":"fitting data","x":1.100,"y":0.115},{"s":"fitting data","x":1.120,"y":0.088},{"s":"fitting data","x":1.145,"y":0.072},{"s":"fitting data","x":1.175,"y":0.066},{"s":"fitting data","x":1.200,"y":0.067}
  ]},
  "mark": {"type": "point", "filled": false, "size": 26, "strokeWidth": 1, "opacity": 1},
  "encoding": {
   "x": {"field": "x", "type": "quantitative", "scale": {"domain": [0, 1.29], "nice": false, "zero": false},
         "axis": {"title": "Z' / kΩ", "values": [0,0.1,0.2,0.3,0.4,0.5,0.6,0.7,0.8,0.9,1.0,1.1,1.2], "labelExpr": "round(datum.value*10) % 2 == 0 ? format(datum.value, '.1f') : ''", "tickSize": {"condition": {"test": "round(datum.value*10) % 2 == 0", "value": 4}, "value": 2}, "titlePadding": 3}},
   "y": {"field": "y", "type": "quantitative", "scale": {"domain": [-0.02, 0.7], "nice": false, "zero": false},
         "axis": {"title": "-Z\" / kΩ", "values": [0,0.1,0.2,0.3,0.4,0.5,0.6], "labelExpr": "round(datum.value*10) % 2 == 0 ? format(datum.value, '.1f') : ''", "tickSize": {"condition": {"test": "round(datum.value*10) % 2 == 0", "value": 4}, "value": 2}, "minExtent": 24, "titlePadding": 2}},
   "color": {"field": "s", "type": "nominal", "scale": {"domain": ["BDD-aM1","BDD-aM1-BSA","BDD-aM1-BSA-saliva","BDD-aM1-BSA-saliva-V1","BDD-aM1-BSA-saliva-V1-SA","fitting data"], "range": ["#333333","#ff2020","#2020ff","#30e030","#ff9a30","#808080"]},
             "legend": {"title": null, "legendX": 14, "legendY": 2, "symbolSize": 26, "rowPadding": 3.3, "labelOffset": 9}},
   "shape": {"field": "s", "type": "nominal", "scale": {"domain": ["BDD-aM1","BDD-aM1-BSA","BDD-aM1-BSA-saliva","BDD-aM1-BSA-saliva-V1","BDD-aM1-BSA-saliva-V1-SA","fitting data"], "range": ["circle","circle","circle","circle","circle","M-1,0L1,0M0,-1L0,1"]},
             "legend": {"title": null, "legendX": 14, "legendY": 2, "symbolSize": 26, "rowPadding": 3.3, "labelOffset": 9}}
  }
 },
 {
  "spacing": 0,
  "resolve": {"scale": {"color": "independent", "x": "independent", "y": "independent"}},
  "hconcat": [
  {
   "width": 221, "height": 204,
   "view": {"stroke": null},
   "data": {"values": [
     {"r": 0, "t": "Sample B (", "it": "Streptococcus Aureus", "c": "k"},
     {"r": 1, "t": "BDD-aM1", "c": "k"},
     {"r": 2, "t": "BDD-aM1-BSA", "c": "r"},
     {"r": 3, "t": "BDD-aM1-BSA-saliva", "c": "b"},
     {"r": 4, "t": "BDD-aM1-BSA-saliva-V1", "c": "g"},
     {"r": 5, "t": "BDD-aM1-BSA-saliva-V1-SA", "c": "o"}
   ]},
   "encoding": {"y": {"field": "r", "type": "ordinal", "scale": {"paddingInner": 0, "paddingOuter": 0.5}, "axis": null}},
   "layer": [
    {"mark": {"type": "rect", "fill": "white", "stroke": "#1a1a1a", "strokeWidth": 1}},
    {"transform": [{"filter": "datum.r > 0"}],
     "mark": {"type": "text", "align": "left", "baseline": "middle", "font": "Lato", "fontSize": 14.2, "dx": 7},
     "encoding": {"x": {"datum": 0, "type": "quantitative", "scale": {"domain": [0, 1]}, "axis": null}, "text": {"field": "t"},
       "color": {"field": "c", "type": "nominal", "scale": {"domain": ["k","r","b","g","o"], "range": ["#1a1a1a","#ff1a1a","#2f5597","#548235","#c9a12b"]}, "legend": null}}},
    {"transform": [{"filter": "datum.r == 0"}],
     "mark": {"type": "text", "align": "left", "baseline": "middle", "font": "Lato", "fontSize": 14.2, "fontWeight": "bold", "dx": 7, "color": "#111"},
     "encoding": {"x": {"datum": 0, "type": "quantitative", "scale": {"domain": [0, 1]}, "axis": null}, "text": {"field": "t"}}},
    {"transform": [{"filter": "datum.r == 0"}],
     "mark": {"type": "text", "align": "left", "baseline": "middle", "font": "Lato", "fontSize": 14.2, "fontWeight": "bold", "fontStyle": "italic", "dx": 75, "color": "#111"},
     "encoding": {"x": {"datum": 0, "type": "quantitative", "scale": {"domain": [0, 1]}, "axis": null}, "text": {"field": "it"}}},
    {"transform": [{"filter": "datum.r == 0"}],
     "mark": {"type": "text", "align": "left", "baseline": "middle", "font": "Lato", "fontSize": 14.2, "fontWeight": "bold", "dx": 202, "color": "#111"},
     "encoding": {"x": {"datum": 0, "type": "quantitative", "scale": {"domain": [0, 1]}, "axis": null}, "text": {"value": ")"}}}
   ]
  },
  {
   "width": 100, "height": 204,
   "view": {"stroke": null},
   "data": {"values": [
     {"r": 0, "v": "", "c": "k"},
     {"r": 1, "v": "219.9", "c": "k"},
     {"r": 2, "v": "620.8", "c": "r"},
     {"r": 3, "v": "601.7", "c": "b"},
     {"r": 4, "v": "799.7", "c": "g"},
     {"r": 5, "v": "848.3", "c": "o"}
   ]},
   "encoding": {"y": {"field": "r", "type": "ordinal", "scale": {"paddingInner": 0, "paddingOuter": 0.5}, "axis": null}},
   "layer": [
    {"mark": {"type": "rect", "fill": "white", "stroke": "#1a1a1a", "strokeWidth": 1}},
    {"transform": [{"filter": "datum.r > 0"}],
     "mark": {"type": "text", "align": "center", "baseline": "middle", "font": "Lato", "fontSize": 14.2},
     "encoding": {"x": {"datum": 0.5, "type": "quantitative", "scale": {"domain": [0, 1]}, "axis": null}, "text": {"field": "v"},
       "color": {"field": "c", "type": "nominal", "scale": {"domain": ["k","r","b","g","o"], "range": ["#1a1a1a","#ff1a1a","#2f5597","#548235","#c9a12b"]}, "legend": null}}},
    {"transform": [{"filter": "datum.r == 0"}],
     "mark": {"type": "text", "align": "left", "baseline": "middle", "font": "Lato", "fontSize": 14.2, "fontWeight": "bold", "fontStyle": "italic", "dx": -35, "color": "#111"},
     "encoding": {"x": {"datum": 0.5, "type": "quantitative", "scale": {"domain": [0, 1]}, "axis": null}, "text": {"value": "R"}}},
    {"transform": [{"filter": "datum.r == 0"}],
     "mark": {"type": "text", "align": "left", "baseline": "middle", "font": "Lato", "fontSize": 10, "fontWeight": "bold", "dx": -26.5, "dy": 4, "color": "#111"},
     "encoding": {"x": {"datum": 0.5, "type": "quantitative", "scale": {"domain": [0, 1]}, "axis": null}, "text": {"value": "ct"}}},
    {"transform": [{"filter": "datum.r == 0"}],
     "mark": {"type": "text", "align": "left", "baseline": "middle", "font": "Lato", "fontSize": 14.2, "fontWeight": "bold", "dx": -12, "color": "#111"},
     "encoding": {"x": {"datum": 0.5, "type": "quantitative", "scale": {"domain": [0, 1]}, "axis": null}, "text": {"value": "/ 10"}}},
    {"transform": [{"filter": "datum.r == 0"}],
     "mark": {"type": "text", "align": "left", "baseline": "middle", "font": "Lato", "fontSize": 9, "fontWeight": "bold", "dx": 13.5, "dy": -5, "color": "#111"},
     "encoding": {"x": {"datum": 0.5, "type": "quantitative", "scale": {"domain": [0, 1]}, "axis": null}, "text": {"value": "5"}}},
    {"transform": [{"filter": "datum.r == 0"}],
     "mark": {"type": "text", "align": "left", "baseline": "middle", "font": "Lato", "fontSize": 14.2, "fontWeight": "bold", "dx": 21, "color": "#111"},
     "encoding": {"x": {"datum": 0.5, "type": "quantitative", "scale": {"domain": [0, 1]}, "axis": null}, "text": {"value": "Ω"}}}
   ]
  }
  ]
 }
 ]
},
{
 "resolve": {"scale": {"color": "independent", "shape": "independent", "x": "independent", "y": "independent"}},
 "spacing": 8,
 "hconcat": [
 {
  "width": 276, "height": 201,
  "title": {"text": "C", "offset": -17},
  "data": {"values": [
{"s":"BDD-aM1","x":0.08,"y":0.05},{"s":"BDD-aM1","x":0.12,"y":0.15},{"s":"BDD-aM1","x":0.18,"y":0.23},{"s":"BDD-aM1","x":0.26,"y":0.28},{"s":"BDD-aM1","x":0.35,"y":0.30},{"s":"BDD-aM1","x":0.44,"y":0.28},{"s":"BDD-aM1","x":0.52,"y":0.22},{"s":"BDD-aM1","x":0.58,"y":0.15},{"s":"BDD-aM1","x":0.63,"y":0.08},{"s":"BDD-aM1","x":0.67,"y":0.03},{"s":"BDD-aM1","x":0.70,"y":0.01},
{"s":"BDD-aM1-BSA","x":0.10,"y":0.15},{"s":"BDD-aM1-BSA","x":0.14,"y":0.40},{"s":"BDD-aM1-BSA","x":0.20,"y":0.65},{"s":"BDD-aM1-BSA","x":0.28,"y":0.90},{"s":"BDD-aM1-BSA","x":0.38,"y":1.15},{"s":"BDD-aM1-BSA","x":0.52,"y":1.40},{"s":"BDD-aM1-BSA","x":0.70,"y":1.63},{"s":"BDD-aM1-BSA","x":0.92,"y":1.86},{"s":"BDD-aM1-BSA","x":1.20,"y":2.08},{"s":"BDD-aM1-BSA","x":1.52,"y":2.30},{"s":"BDD-aM1-BSA","x":1.88,"y":2.49},{"s":"BDD-aM1-BSA","x":2.28,"y":2.63},{"s":"BDD-aM1-BSA","x":2.72,"y":2.72},{"s":"BDD-aM1-BSA","x":3.18,"y":2.75},{"s":"BDD-aM1-BSA","x":3.62,"y":2.70},{"s":"BDD-aM1-BSA","x":4.02,"y":2.60},{"s":"BDD-aM1-BSA","x":4.40,"y":2.45},{"s":"BDD-aM1-BSA","x":4.72,"y":2.25},{"s":"BDD-aM1-BSA","x":5.00,"y":2.02},{"s":"BDD-aM1-BSA","x":5.24,"y":1.77},{"s":"BDD-aM1-BSA","x":5.44,"y":1.52},{"s":"BDD-aM1-BSA","x":5.62,"y":1.28},{"s":"BDD-aM1-BSA","x":5.78,"y":1.06},{"s":"BDD-aM1-BSA","x":5.93,"y":0.87},{"s":"BDD-aM1-BSA","x":6.07,"y":0.71},{"s":"BDD-aM1-BSA","x":6.19,"y":0.60},{"s":"BDD-aM1-BSA","x":6.28,"y":0.56},
{"s":"BDD-aM1-BSA-saliva","x":0.10,"y":0.20},{"s":"BDD-aM1-BSA-saliva","x":0.14,"y":0.45},{"s":"BDD-aM1-BSA-saliva","x":0.20,"y":0.70},{"s":"BDD-aM1-BSA-saliva","x":0.28,"y":0.95},{"s":"BDD-aM1-BSA-saliva","x":0.38,"y":1.20},{"s":"BDD-aM1-BSA-saliva","x":0.52,"y":1.45},{"s":"BDD-aM1-BSA-saliva","x":0.70,"y":1.68},{"s":"BDD-aM1-BSA-saliva","x":0.92,"y":1.90},{"s":"BDD-aM1-BSA-saliva","x":1.20,"y":2.12},{"s":"BDD-aM1-BSA-saliva","x":1.52,"y":2.33},{"s":"BDD-aM1-BSA-saliva","x":1.88,"y":2.52},{"s":"BDD-aM1-BSA-saliva","x":2.28,"y":2.66},{"s":"BDD-aM1-BSA-saliva","x":2.72,"y":2.76},{"s":"BDD-aM1-BSA-saliva","x":3.18,"y":2.79},{"s":"BDD-aM1-BSA-saliva","x":3.62,"y":2.74},{"s":"BDD-aM1-BSA-saliva","x":4.02,"y":2.64},{"s":"BDD-aM1-BSA-saliva","x":4.40,"y":2.50},{"s":"BDD-aM1-BSA-saliva","x":4.74,"y":2.31},{"s":"BDD-aM1-BSA-saliva","x":5.04,"y":2.09},{"s":"BDD-aM1-BSA-saliva","x":5.30,"y":1.85},{"s":"BDD-aM1-BSA-saliva","x":5.52,"y":1.62},{"s":"BDD-aM1-BSA-saliva","x":5.72,"y":1.40},{"s":"BDD-aM1-BSA-saliva","x":5.90,"y":1.20},{"s":"BDD-aM1-BSA-saliva","x":6.06,"y":1.04},{"s":"BDD-aM1-BSA-saliva","x":6.22,"y":0.93},{"s":"BDD-aM1-BSA-saliva","x":6.38,"y":0.89},{"s":"BDD-aM1-BSA-saliva","x":6.52,"y":0.89},
{"s":"BDD-aM1-BSA-saliva-CA","x":0.10,"y":0.17},{"s":"BDD-aM1-BSA-saliva-CA","x":0.15,"y":0.42},{"s":"BDD-aM1-BSA-saliva-CA","x":0.21,"y":0.67},{"s":"BDD-aM1-BSA-saliva-CA","x":0.30,"y":0.92},{"s":"BDD-aM1-BSA-saliva-CA","x":0.40,"y":1.17},{"s":"BDD-aM1-BSA-saliva-CA","x":0.55,"y":1.42},{"s":"BDD-aM1-BSA-saliva-CA","x":0.73,"y":1.65},{"s":"BDD-aM1-BSA-saliva-CA","x":0.95,"y":1.88},{"s":"BDD-aM1-BSA-saliva-CA","x":1.23,"y":2.10},{"s":"BDD-aM1-BSA-saliva-CA","x":1.55,"y":2.31},{"s":"BDD-aM1-BSA-saliva-CA","x":1.92,"y":2.50},{"s":"BDD-aM1-BSA-saliva-CA","x":2.32,"y":2.64},{"s":"BDD-aM1-BSA-saliva-CA","x":2.76,"y":2.73},{"s":"BDD-aM1-BSA-saliva-CA","x":3.22,"y":2.76},{"s":"BDD-aM1-BSA-saliva-CA","x":3.66,"y":2.71},{"s":"BDD-aM1-BSA-saliva-CA","x":4.06,"y":2.61},{"s":"BDD-aM1-BSA-saliva-CA","x":4.44,"y":2.46},{"s":"BDD-aM1-BSA-saliva-CA","x":4.76,"y":2.26},{"s":"BDD-aM1-BSA-saliva-CA","x":5.04,"y":2.03},{"s":"BDD-aM1-BSA-saliva-CA","x":5.28,"y":1.78},{"s":"BDD-aM1-BSA-saliva-CA","x":5.48,"y":1.53},{"s":"BDD-aM1-BSA-saliva-CA","x":5.66,"y":1.29},{"s":"BDD-aM1-BSA-saliva-CA","x":5.82,"y":1.07},{"s":"BDD-aM1-BSA-saliva-CA","x":5.97,"y":0.88},{"s":"BDD-aM1-BSA-saliva-CA","x":6.10,"y":0.72},{"s":"BDD-aM1-BSA-saliva-CA","x":6.21,"y":0.61},{"s":"BDD-aM1-BSA-saliva-CA","x":6.30,"y":0.58},
{"s":"BDD-aM1-BSA-saliva-CA-V1+CA","x":0.05,"y":0.10},{"s":"BDD-aM1-BSA-saliva-CA-V1+CA","x":0.08,"y":0.40},{"s":"BDD-aM1-BSA-saliva-CA-V1+CA","x":0.12,"y":0.75},{"s":"BDD-aM1-BSA-saliva-CA-V1+CA","x":0.17,"y":1.07},{"s":"BDD-aM1-BSA-saliva-CA-V1+CA","x":0.27,"y":1.40},{"s":"BDD-aM1-BSA-saliva-CA-V1+CA","x":0.42,"y":1.75},{"s":"BDD-aM1-BSA-saliva-CA-V1+CA","x":0.60,"y":2.08},{"s":"BDD-aM1-BSA-saliva-CA-V1+CA","x":0.80,"y":2.42},{"s":"BDD-aM1-BSA-saliva-CA-V1+CA","x":1.04,"y":2.75},{"s":"BDD-aM1-BSA-saliva-CA-V1+CA","x":1.31,"y":3.07},{"s":"BDD-aM1-BSA-saliva-CA-V1+CA","x":1.61,"y":3.39},{"s":"BDD-aM1-BSA-saliva-CA-V1+CA","x":1.98,"y":3.72},{"s":"BDD-aM1-BSA-saliva-CA-V1+CA","x":2.43,"y":4.02},{"s":"BDD-aM1-BSA-saliva-CA-V1+CA","x":2.95,"y":4.30},{"s":"BDD-aM1-BSA-saliva-CA-V1+CA","x":3.49,"y":4.55},{"s":"BDD-aM1-BSA-saliva-CA-V1+CA","x":4.10,"y":4.73},{"s":"BDD-aM1-BSA-saliva-CA-V1+CA","x":4.77,"y":4.86},{"s":"BDD-aM1-BSA-saliva-CA-V1+CA","x":5.43,"y":4.85},{"s":"BDD-aM1-BSA-saliva-CA-V1+CA","x":6.08,"y":4.79},{"s":"BDD-aM1-BSA-saliva-CA-V1+CA","x":6.67,"y":4.68},{"s":"BDD-aM1-BSA-saliva-CA-V1+CA","x":7.27,"y":4.45},{"s":"BDD-aM1-BSA-saliva-CA-V1+CA","x":7.80,"y":4.16},{"s":"BDD-aM1-BSA-saliva-CA-V1+CA","x":8.30,"y":3.88},{"s":"BDD-aM1-BSA-saliva-CA-V1+CA","x":8.68,"y":3.62},{"s":"BDD-aM1-BSA-saliva-CA-V1+CA","x":8.97,"y":3.36},{"s":"BDD-aM1-BSA-saliva-CA-V1+CA","x":9.27,"y":3.08},{"s":"BDD-aM1-BSA-saliva-CA-V1+CA","x":9.48,"y":2.85},{"s":"BDD-aM1-BSA-saliva-CA-V1+CA","x":9.72,"y":2.58},{"s":"BDD-aM1-BSA-saliva-CA-V1+CA","x":9.92,"y":2.28},{"s":"BDD-aM1-BSA-saliva-CA-V1+CA","x":10.10,"y":2.02},{"s":"BDD-aM1-BSA-saliva-CA-V1+CA","x":10.25,"y":1.88},{"s":"BDD-aM1-BSA-saliva-CA-V1+CA","x":10.40,"y":1.74},{"s":"BDD-aM1-BSA-saliva-CA-V1+CA","x":10.52,"y":1.62},{"s":"BDD-aM1-BSA-saliva-CA-V1+CA","x":10.64,"y":1.50},{"s":"BDD-aM1-BSA-saliva-CA-V1+CA","x":10.75,"y":1.40},{"s":"BDD-aM1-BSA-saliva-CA-V1+CA","x":10.86,"y":1.34},{"s":"BDD-aM1-BSA-saliva-CA-V1+CA","x":10.92,"y":1.32},
{"s":"fitting-data","x":0.10,"y":0.10},{"s":"fitting-data","x":0.20,"y":0.22},{"s":"fitting-data","x":0.33,"y":0.29},{"s":"fitting-data","x":0.46,"y":0.27},{"s":"fitting-data","x":0.56,"y":0.18},{"s":"fitting-data","x":0.64,"y":0.08},{"s":"fitting-data","x":0.69,"y":0.02},
{"s":"fitting-data","x":0.12,"y":0.30},{"s":"fitting-data","x":0.22,"y":0.75},{"s":"fitting-data","x":0.36,"y":1.12},{"s":"fitting-data","x":0.55,"y":1.45},{"s":"fitting-data","x":0.82,"y":1.78},{"s":"fitting-data","x":1.15,"y":2.07},{"s":"fitting-data","x":1.55,"y":2.33},{"s":"fitting-data","x":2.00,"y":2.55},{"s":"fitting-data","x":2.50,"y":2.70},{"s":"fitting-data","x":3.05,"y":2.77},{"s":"fitting-data","x":3.60,"y":2.73},{"s":"fitting-data","x":4.10,"y":2.60},{"s":"fitting-data","x":4.55,"y":2.40},{"s":"fitting-data","x":4.95,"y":2.12},{"s":"fitting-data","x":5.30,"y":1.80},{"s":"fitting-data","x":5.60,"y":1.45},{"s":"fitting-data","x":5.85,"y":1.15},{"s":"fitting-data","x":6.05,"y":0.95},{"s":"fitting-data","x":6.22,"y":0.85},{"s":"fitting-data","x":6.35,"y":0.86},
{"s":"fitting-data","x":0.06,"y":0.25},{"s":"fitting-data","x":0.12,"y":0.70},{"s":"fitting-data","x":0.22,"y":1.15},{"s":"fitting-data","x":0.42,"y":1.70},{"s":"fitting-data","x":0.70,"y":2.25},{"s":"fitting-data","x":1.05,"y":2.78},{"s":"fitting-data","x":1.55,"y":3.35},{"s":"fitting-data","x":2.20,"y":3.90},{"s":"fitting-data","x":3.00,"y":4.35},{"s":"fitting-data","x":3.90,"y":4.68},{"s":"fitting-data","x":4.85,"y":4.88},{"s":"fitting-data","x":5.90,"y":4.82},{"s":"fitting-data","x":7.20,"y":4.52},{"s":"fitting-data","x":7.75,"y":4.28},{"s":"fitting-data","x":8.35,"y":3.85},{"s":"fitting-data","x":8.95,"y":3.35},{"s":"fitting-data","x":9.30,"y":3.10},{"s":"fitting-data","x":9.55,"y":2.80},{"s":"fitting-data","x":9.80,"y":2.45},{"s":"fitting-data","x":10.05,"y":2.10},{"s":"fitting-data","x":10.30,"y":1.80},{"s":"fitting-data","x":10.55,"y":1.55},{"s":"fitting-data","x":10.72,"y":1.40}
  ]},
  "mark": {"type": "point", "filled": false, "size": 42, "strokeWidth": 1, "opacity": 1},
  "encoding": {
   "x": {"field": "x", "type": "quantitative", "scale": {"domain": [0, 12.05], "nice": false, "zero": false},
         "axis": {"title": "Z' / kΩ", "values": [0,1,2,3,4,5,6,7,8,9,10,11,12], "labelExpr": "datum.value % 2 == 0 ? datum.label : ''", "tickSize": {"condition": {"test": "datum.value % 2 == 0", "value": 4}, "value": 2}, "titlePadding": 0, "labelPadding": 1}},
   "y": {"field": "y", "type": "quantitative", "scale": {"domain": [-0.03, 7], "nice": false, "zero": false},
         "axis": {"title": "-Z\" / kΩ", "values": [0,1,2,3,4,5,6], "labelExpr": "datum.value % 2 == 0 ? datum.label : ''", "tickSize": {"condition": {"test": "datum.value % 2 == 0", "value": 4}, "value": 2}, "minExtent": 24, "titlePadding": 2}},
   "color": {"field": "s", "type": "nominal", "scale": {"domain": ["BDD-aM1","BDD-aM1-BSA","BDD-aM1-BSA-saliva","BDD-aM1-BSA-saliva-CA","BDD-aM1-BSA-saliva-CA-V1+CA","fitting-data"], "range": ["#555555","#ff0000","#ff00ff","#66ff66","#ff8000","#808080"]},
             "legend": {"title": null, "legendX": 10, "legendY": 3, "symbolSize": 40, "rowPadding": 1.5, "labelOffset": 8}},
   "shape": {"field": "s", "type": "nominal", "scale": {"domain": ["BDD-aM1","BDD-aM1-BSA","BDD-aM1-BSA-saliva","BDD-aM1-BSA-saliva-CA","BDD-aM1-BSA-saliva-CA-V1+CA","fitting-data"], "range": ["circle","triangle-up","square","circle","diamond","M-1,0L1,0M0,-1L0,1"]},
             "legend": {"title": null, "legendX": 10, "legendY": 3, "symbolSize": 40, "rowPadding": 1.5, "labelOffset": 8}}
  }
 },
 {
  "spacing": 0,
  "resolve": {"scale": {"color": "independent", "x": "independent", "y": "independent"}},
  "hconcat": [
  {
   "width": 232, "height": 215,
   "view": {"stroke": null},
   "data": {"values": [
     {"r": 0, "t": "Sample C (", "it": "mixture", "c": "k"},
     {"r": 1, "t": "BDD-aM1", "c": "k"},
     {"r": 2, "t": "BDD-aM1-BSA", "c": "r"},
     {"r": 3, "t": "BDD-aM1-BSA-saliva", "c": "m"},
     {"r": 4, "t": "BDD-aM1-BSA-saliva-CA", "c": "ol"},
     {"r": 5, "t": "BDD-aM1-BSA-saliva-CA-V1+CA", "c": "or"}
   ]},
   "encoding": {"y": {"field": "r", "type": "ordinal", "scale": {"paddingInner": 0, "paddingOuter": 0.67}, "axis": null}},
   "layer": [
    {"mark": {"type": "rect", "fill": "white", "stroke": "#1a1a1a", "strokeWidth": 1}},
    {"transform": [{"filter": "datum.r > 0"}],
     "mark": {"type": "text", "align": "left", "baseline": "middle", "font": "Lato", "fontSize": 14.2, "dx": 7},
     "encoding": {"x": {"datum": 0, "type": "quantitative", "scale": {"domain": [0, 1]}, "axis": null}, "text": {"field": "t"},
       "color": {"field": "c", "type": "nominal", "scale": {"domain": ["k","r","m","ol","or"], "range": ["#1a1a1a","#ff1a1a","#ff66ff","#76923c","#f07a26"]}, "legend": null}}},
    {"transform": [{"filter": "datum.r == 0"}],
     "mark": {"type": "text", "align": "left", "baseline": "middle", "font": "Lato", "fontSize": 14.2, "fontWeight": "bold", "dx": 7, "color": "#111"},
     "encoding": {"x": {"datum": 0, "type": "quantitative", "scale": {"domain": [0, 1]}, "axis": null}, "text": {"field": "t"}}},
    {"transform": [{"filter": "datum.r == 0"}],
     "mark": {"type": "text", "align": "left", "baseline": "middle", "font": "Lato", "fontSize": 14.2, "fontWeight": "bold", "fontStyle": "italic", "dx": 76, "color": "#111"},
     "encoding": {"x": {"datum": 0, "type": "quantitative", "scale": {"domain": [0, 1]}, "axis": null}, "text": {"field": "it"}}},
    {"transform": [{"filter": "datum.r == 0"}],
     "mark": {"type": "text", "align": "left", "baseline": "middle", "font": "Lato", "fontSize": 14.2, "fontWeight": "bold", "dx": 124, "color": "#111"},
     "encoding": {"x": {"datum": 0, "type": "quantitative", "scale": {"domain": [0, 1]}, "axis": null}, "text": {"value": ")"}}}
   ]
  },
  {
   "width": 90, "height": 215,
   "view": {"stroke": null},
   "data": {"values": [
     {"r": 0, "v": "", "c": "k"},
     {"r": 1, "v": "517.4", "c": "k"},
     {"r": 2, "v": "5790.6", "c": "r"},
     {"r": 3, "v": "5849.8", "c": "m"},
     {"r": 4, "v": "5765.4", "c": "ol"},
     {"r": 5, "v": "10194.0", "c": "or"}
   ]},
   "encoding": {"y": {"field": "r", "type": "ordinal", "scale": {"paddingInner": 0, "paddingOuter": 0.67}, "axis": null}},
   "layer": [
    {"mark": {"type": "rect", "fill": "white", "stroke": "#1a1a1a", "strokeWidth": 1}},
    {"transform": [{"filter": "datum.r > 0"}],
     "mark": {"type": "text", "align": "center", "baseline": "middle", "font": "Lato", "fontSize": 14.2},
     "encoding": {"x": {"datum": 0.5, "type": "quantitative", "scale": {"domain": [0, 1]}, "axis": null}, "text": {"field": "v"},
       "color": {"field": "c", "type": "nominal", "scale": {"domain": ["k","r","m","ol","or"], "range": ["#1a1a1a","#ff1a1a","#ff66ff","#76923c","#f07a26"]}, "legend": null}}},
    {"transform": [{"filter": "datum.r == 0"}],
     "mark": {"type": "text", "align": "left", "baseline": "middle", "font": "Lato", "fontSize": 14.2, "fontWeight": "bold", "fontStyle": "italic", "dx": -35, "color": "#111"},
     "encoding": {"x": {"datum": 0.5, "type": "quantitative", "scale": {"domain": [0, 1]}, "axis": null}, "text": {"value": "R"}}},
    {"transform": [{"filter": "datum.r == 0"}],
     "mark": {"type": "text", "align": "left", "baseline": "middle", "font": "Lato", "fontSize": 10, "fontWeight": "bold", "dx": -26.5, "dy": 4, "color": "#111"},
     "encoding": {"x": {"datum": 0.5, "type": "quantitative", "scale": {"domain": [0, 1]}, "axis": null}, "text": {"value": "ct"}}},
    {"transform": [{"filter": "datum.r == 0"}],
     "mark": {"type": "text", "align": "left", "baseline": "middle", "font": "Lato", "fontSize": 14.2, "fontWeight": "bold", "dx": -12, "color": "#111"},
     "encoding": {"x": {"datum": 0.5, "type": "quantitative", "scale": {"domain": [0, 1]}, "axis": null}, "text": {"value": "/ 10"}}},
    {"transform": [{"filter": "datum.r == 0"}],
     "mark": {"type": "text", "align": "left", "baseline": "middle", "font": "Lato", "fontSize": 9, "fontWeight": "bold", "dx": 13.5, "dy": -5, "color": "#111"},
     "encoding": {"x": {"datum": 0.5, "type": "quantitative", "scale": {"domain": [0, 1]}, "axis": null}, "text": {"value": "5"}}},
    {"transform": [{"filter": "datum.r == 0"}],
     "mark": {"type": "text", "align": "left", "baseline": "middle", "font": "Lato", "fontSize": 14.2, "fontWeight": "bold", "dx": 21, "color": "#111"},
     "encoding": {"x": {"datum": 0.5, "type": "quantitative", "scale": {"domain": [0, 1]}, "axis": null}, "text": {"value": "Ω"}}}
   ]
  }
  ]
 }
 ]
}
]
}
